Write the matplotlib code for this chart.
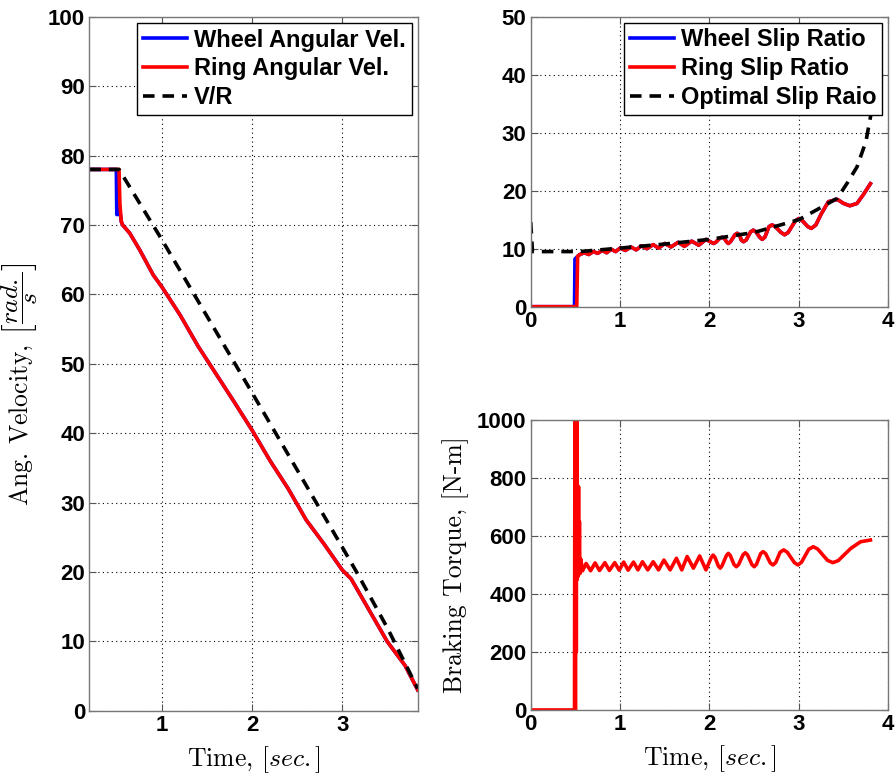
import matplotlib
matplotlib.use("Agg")
import matplotlib.pyplot as plt
from matplotlib.font_manager import FontProperties

plt.rcParams["mathtext.fontset"] = "cm"
plt.rcParams["axes.unicode_minus"] = False

# ---- Angular velocity (left panel) ----
ring_vel_t = [0.19, 0.52, 0.53, 0.545, 0.56, 0.64, 0.75, 0.90, 1.00, 1.20, 1.40, 1.60,
              1.80, 2.00, 2.20, 2.40, 2.60, 2.80, 3.00, 3.10, 3.30, 3.50, 3.70, 3.84]
ring_vel = [78.0, 78.0, 73.0, 70.5, 70.0, 68.8, 66.4, 62.8, 61.0, 57.0, 52.5, 48.5,
            44.5, 40.4, 36.0, 32.0, 27.5, 24.0, 20.3, 19.0, 14.5, 10.0, 6.5, 3.0]
wheel_vel_t = [0.19, 0.49, 0.495, 0.505, 0.515, 0.53, 0.545, 0.56, 0.64, 0.75, 0.90, 1.00,
               1.20, 1.40, 1.60, 1.80, 2.00, 2.20, 2.40, 2.60, 2.80, 3.00, 3.10, 3.30,
               3.50, 3.70, 3.84]
wheel_vel = [78.0, 78.0, 71.5, 71.5, 73.5, 72.0, 70.5, 70.0, 68.8, 66.4, 62.8, 61.0,
             57.0, 52.5, 48.5, 44.5, 40.4, 36.0, 32.0, 27.5, 24.0, 20.3, 19.0, 14.5,
             10.0, 6.5, 3.0]
vr_t = [0.19, 0.52, 1.00, 2.00, 3.00, 3.16, 3.50, 3.84]
vr = [78.0, 78.0, 67.8, 45.8, 23.6, 20.0, 12.0, 3.2]

# ---- Slip ratio (top right) ----
ring_slip_t = [0.0, 0.515, 0.525, 0.55, 0.60, 0.65, 0.70, 0.75, 0.80, 0.85, 0.90, 0.95,
               1.00, 1.06, 1.12, 1.18, 1.24, 1.30, 1.37, 1.43, 1.50, 1.57, 1.65, 1.72,
               1.80, 1.88, 1.96, 2.02, 2.045, 2.07, 2.115, 2.14, 2.165, 2.19, 2.21,
               2.235, 2.285, 2.31, 2.335, 2.355, 2.38, 2.41, 2.46, 2.49, 2.52, 2.56,
               2.59, 2.62, 2.665, 2.70, 2.735, 2.80, 2.84, 2.88, 2.96, 3.00, 3.04,
               3.10, 3.14, 3.19, 3.25, 3.33, 3.43, 3.50, 3.57, 3.65, 3.72, 3.80]
ring_slip = [0.0, 0.0, 8.7, 9.0, 9.3, 9.0, 9.5, 9.2, 9.7, 9.3, 9.9, 9.5,
             10.1, 9.7, 10.3, 9.8, 10.5, 10.0, 10.7, 10.1, 10.9, 10.3, 11.1, 10.4,
             11.3, 10.6, 11.6, 11.1, 10.9, 11.1, 11.8, 11.96, 11.8, 11.2, 10.9,
             11.2, 12.4, 12.65, 12.4, 11.5, 11.2, 11.5, 12.9, 13.2, 12.9, 12.0,
             11.6, 12.0, 13.8, 14.1, 13.8, 12.8, 12.4, 12.8, 14.8, 15.2, 14.8,
             13.8, 13.5, 14.1, 16.0, 18.1, 18.5, 17.8, 17.4, 17.8, 19.3, 21.2]
wheel_slip_t = [0.0, 0.49, 0.495, 0.52] + ring_slip_t[3:]
wheel_slip = [0.0, 0.0, 8.2, 8.6] + ring_slip[3:]
opt_slip_t = [0.0, 0.02, 0.55, 1.00, 1.50, 2.00, 2.50, 3.00, 3.20, 3.43, 3.54, 3.65,
              3.75, 3.84]
opt_slip = [14.6, 9.5, 9.5, 10.1, 10.8, 11.6, 12.8, 15.0, 16.7, 18.7, 21.3, 24.1,
            28.5, 36.0]

# ---- Braking torque (bottom right) ----
torque_t = [0.0, 0.49, 0.495, 0.50, 0.505, 0.51, 0.515, 0.52, 0.525, 0.53, 0.535,
            0.54, 0.545, 0.55, 0.56, 0.58, 0.62, 0.67, 0.72, 0.77, 0.83, 0.88, 0.94,
            0.99, 1.04, 1.09, 1.15, 1.20, 1.25, 1.31, 1.37, 1.43, 1.49, 1.56, 1.63,
            1.69, 1.75, 1.82, 1.89, 1.96, 2.02, 2.04, 2.06, 2.10, 2.12, 2.14, 2.188,
            2.21, 2.232, 2.275, 2.30, 2.325, 2.375, 2.40, 2.425, 2.475, 2.50, 2.525,
            2.572, 2.60, 2.628, 2.68, 2.71, 2.74, 2.79, 2.83, 2.87, 2.95, 2.99, 3.03,
            3.11, 3.16, 3.21, 3.32, 3.38, 3.44, 3.58, 3.69, 3.80]
torque = [0, 0, 1150, 0, 1150, 200, 1150, 450, 770, 460, 770,
          470, 650, 470, 520, 480, 505, 480, 507, 481, 508, 481, 508,
          482, 510, 482, 510, 483, 511, 483, 511, 483, 517, 483, 523,
          483, 529, 489, 531, 483, 526, 534, 527, 496, 489, 497, 532,
          540, 533, 501, 494, 501, 535, 542, 535, 501, 494, 502,
          539, 546, 539, 507, 500, 508, 544, 552, 544, 508, 500, 510,
          554, 563, 555, 516, 508, 515, 557, 580, 586]

legend_left = ["Wheel Angular Vel.", "Ring Angular Vel.", "V/R"]
legend_slip = ["Wheel Slip Ratio", "Ring Slip Ratio", "Optimal Slip Raio"]

TICK_FONT = dict(family="Liberation Sans", weight="bold", size=16)
LABEL_SIZE = 18.5
LW = 2.6
DASH = (0, (3.2, 2.2))


def style_axes(ax):
    ax.grid(True, color="black", linestyle=(0, (1, 3)), linewidth=0.8)
    ax.tick_params(direction="in", top=True, right=True, length=5, width=0.8,
                   color="#555555", pad=3)
    for sp in ax.spines.values():
        sp.set_color("#777777")
        sp.set_linewidth(1.0)
    for lab in ax.get_xticklabels() + ax.get_yticklabels():
        lab.set_fontproperties(FontProperties(**TICK_FONT))


def add_legend(ax):
    leg = ax.legend(loc="upper right",
                    prop=dict(family="Liberation Sans", weight="bold", size=17),
                    frameon=True, fancybox=False, edgecolor="black", framealpha=1,
                    borderaxespad=0.25, borderpad=0.25, handlelength=1.85,
                    handletextpad=0.3, labelspacing=0.24)
    leg.get_frame().set_linewidth(1.0)


fig = plt.figure(figsize=(8.96, 7.76), dpi=100)
ax1 = fig.add_axes([0.0997, 0.0841, 0.3665, 0.8943])
ax2 = fig.add_axes([0.5923, 0.6048, 0.3991, 0.3737])
ax3 = fig.add_axes([0.5923, 0.0851, 0.3991, 0.3737])

# left: angular velocities
ax1.plot(wheel_vel_t, wheel_vel, color="#0000ff", lw=LW, label=legend_left[0])
ax1.plot(ring_vel_t, ring_vel, color="#ff0000", lw=LW, label=legend_left[1])
ax1.plot(vr_t, vr, color="black", lw=LW, linestyle=DASH, label=legend_left[2])
ax1.set_xlim(0.19, 3.84)
ax1.set_ylim(0, 100)
ax1.set_xticks([1, 2, 3])
ax1.set_yticks(range(0, 101, 10))
style_axes(ax1)
add_legend(ax1)
ax1.set_xlabel(r"Time, $[sec.]$", family="cmr10", size=LABEL_SIZE, labelpad=6)
ax1.set_ylabel(r"Ang. Velocity, $\left[\dfrac{rad.}{s}\right]$", family="cmr10",
               size=LABEL_SIZE)
ax1.yaxis.set_label_coords(-0.15, 0.47)

# top right: slip ratios
ax2.plot(wheel_slip_t, wheel_slip, color="#0000ff", lw=LW, label=legend_slip[0])
ax2.plot(ring_slip_t, ring_slip, color="#ff0000", lw=LW, label=legend_slip[1])
ax2.plot(opt_slip_t, opt_slip, color="black", lw=LW, linestyle=DASH, label=legend_slip[2])
ax2.set_xlim(0, 4)
ax2.set_ylim(0, 50)
ax2.set_xticks(range(0, 5))
ax2.set_yticks(range(0, 51, 10))
style_axes(ax2)
add_legend(ax2)

# bottom right: braking torque
ax3.plot(torque_t, torque, color="#ff0000", lw=LW)
ax3.set_xlim(0, 4)
ax3.set_ylim(0, 1000)
ax3.set_xticks(range(0, 5))
ax3.set_yticks(range(0, 1001, 200))
style_axes(ax3)
ax3.set_xlabel(r"Time, $[sec.]$", family="cmr10", size=LABEL_SIZE, labelpad=6)
ax3.set_ylabel("Braking Torque, [N-m]", family="cmr10", size=LABEL_SIZE, labelpad=6)

fig.savefig("out.png", dpi=100, facecolor="white")
